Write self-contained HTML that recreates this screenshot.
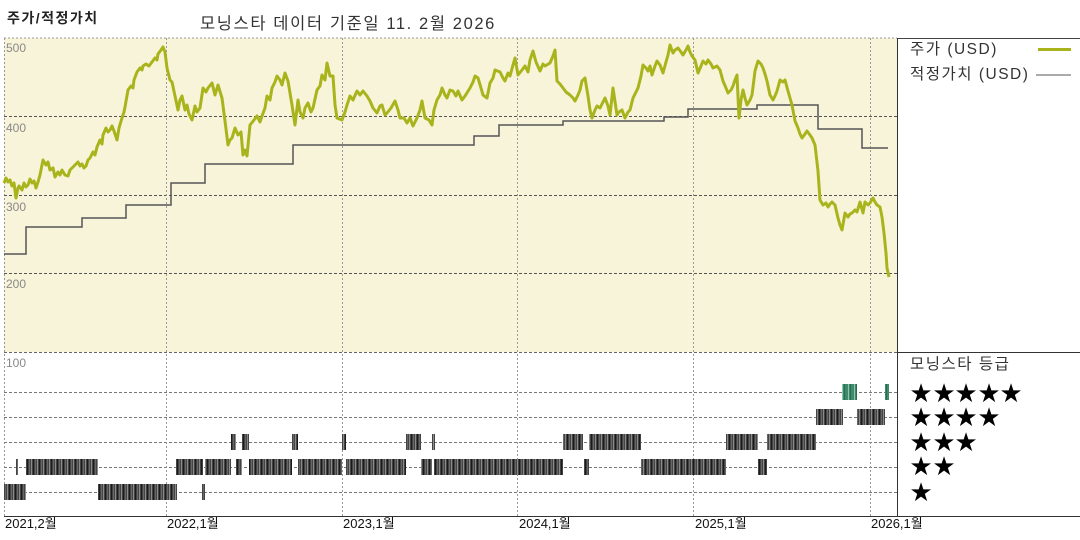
<!DOCTYPE html>
<html><head><meta charset="utf-8"><style>
html,body{margin:0;padding:0;background:#fff;}
body{width:1080px;height:540px;position:relative;overflow:hidden;font-family:"Liberation Sans","Noto Sans CJK KR","NanumGothic",sans-serif;}
</style></head><body>
<svg width="1080" height="540" viewBox="0 0 1080 540" xmlns="http://www.w3.org/2000/svg" style="position:absolute;left:0;top:0">
<defs>
<pattern id="gs" width="6" height="20" patternUnits="userSpaceOnUse">
<rect width="6" height="20" fill="#444"/>
<rect x="1" width="1" height="20" fill="#8a8a8a"/>
<rect x="3" width="1" height="20" fill="#1a1a1a"/>
<rect x="5" width="1" height="20" fill="#666"/>
</pattern>
<pattern id="gg" width="6" height="20" patternUnits="userSpaceOnUse">
<rect width="6" height="20" fill="#3e8a6c"/>
<rect x="2" width="1" height="20" fill="#8fc4ad"/>
<rect x="4" width="1" height="20" fill="#2a6b52"/>
</pattern>
</defs>
<rect x="4" y="38" width="893" height="314" fill="#f8f4d9"/>
<line x1="4" y1="38" x2="897" y2="38" stroke="#999" stroke-dasharray="2,2"/>
<line x1="4.5" y1="38" x2="4.5" y2="516" stroke="#999" stroke-dasharray="2,2"/>
<line x1="897" y1="38.5" x2="1080" y2="38.5" stroke="#444" stroke-width="1"/>
<line x1="897.5" y1="38" x2="897.5" y2="517" stroke="#333" stroke-width="1"/>
<line x1="897" y1="352.5" x2="1080" y2="352.5" stroke="#333" stroke-width="1"/>
<line x1="4" y1="352.5" x2="897" y2="352.5" stroke="#666" stroke-dasharray="3,2"/>
<line x1="4" y1="516.5" x2="1080" y2="516.5" stroke="#333" stroke-width="1"/>
<g stroke="#555" stroke-dasharray="3,2" stroke-width="1">
<line x1="4" y1="116.5" x2="897" y2="116.5"/>
<line x1="4" y1="195.5" x2="897" y2="195.5"/>
<line x1="4" y1="273.5" x2="897" y2="273.5"/>
</g>
<g stroke="#777" stroke-dasharray="3,2" stroke-width="1">
<line x1="4" y1="392.5" x2="897" y2="392.5"/>
<line x1="4" y1="417.5" x2="897" y2="417.5"/>
<line x1="4" y1="442.5" x2="897" y2="442.5"/>
<line x1="4" y1="467.5" x2="897" y2="467.5"/>
<line x1="4" y1="492.5" x2="897" y2="492.5"/>
</g>
<g stroke="#999" stroke-dasharray="2,2" stroke-width="1">
<line x1="166.5" y1="38" x2="166.5" y2="516"/>
<line x1="342.5" y1="38" x2="342.5" y2="516"/>
<line x1="517.5" y1="38" x2="517.5" y2="516"/>
<line x1="693.5" y1="38" x2="693.5" y2="516"/>
<line x1="870.5" y1="38" x2="870.5" y2="516"/>
</g>
<g font-family="Liberation Sans, sans-serif" font-size="12" fill="#888">
<text x="6" y="52">500</text>
<text x="6" y="132">400</text>
<text x="6" y="211">300</text>
<text x="6" y="288">200</text>
<text x="6" y="367">100</text>
</g>
<path d="M4,254 H26 V227 H82 V218 H126 V205 H171 V183 H205 V164 H293 V145 H474 V136 H499 V125 H563 V121 H664 V117 H688 V109 H757 V105 H818 V129 H862 V148 H888" fill="none" stroke="#555" stroke-width="1.5"/>
<polyline fill="none" stroke="#a9b41c" stroke-width="3" stroke-linejoin="round" points="4,183 6,178 8,182 10,180 12,186 14,183 16,198 18,188 19,186 22,190 24,183 26,187 28,185 30,179 32,183 34,181 36,188 38,182 40,175 43,160 46,165 48,162 50,170 53,168 55,177 58,172 60,175 62,170 65,175 68,176 70,170 72,168 75,165 78,162 80,166 82,164 84,168 86,166 88,160 90,158 93,152 95,155 97,147 100,140 102,144 103,135 106,128 108,132 110,130 112,126 114,131 117,140 119,128 122,118 124,112 125,107 128,90 131,86 133,88 134,80 137,72 140,68 142,70 143,66 146,64 149,66 152,62 155,58 157,60 158,54 161,50 163,47 165,52 167,68 170,80 172,82 175,96 178,110 180,100 182,96 185,110 187,105 189,114 192,120 195,106 197,112 200,108 203,88 206,92 208,88 212,83 215,95 218,85 222,98 225,121 228,145 230,140 232,138 235,128 238,135 241,132 243,155 245,150 247,156 250,125 254,120 257,116 260,122 262,116 265,108 267,96 270,100 272,88 275,82 277,76 280,80 282,85 285,73 288,81 292,105 295,125 298,100 300,112 303,118 305,108 308,103 311,112 313,108 317,90 320,86 322,75 325,80 327,63 330,76 333,76 335,105 337,118 342,120 345,112 347,105 350,96 353,100 357,91 360,95 363,91 367,96 370,101 373,108 377,113 380,106 382,105 385,115 387,113 391,108 395,101 398,110 400,118 404,118 407,123 410,118 413,126 417,118 420,110 422,101 425,118 429,120 432,125 434,110 437,100 440,95 442,88 445,95 447,98 450,90 453,91 456,96 458,91 462,100 465,96 470,88 473,82 475,76 478,78 481,88 483,95 487,98 490,83 493,78 495,70 500,72 503,78 505,81 508,73 510,76 513,65 515,58 518,75 522,70 525,66 528,72 530,60 533,51 536,62 540,71 543,64 545,66 550,63 553,56 555,50 557,81 560,84 563,88 566,92 570,95 573,98 575,101 578,95 580,90 582,81 585,78 588,96 590,110 592,118 595,110 597,106 600,108 603,102 605,98 608,106 610,115 613,88 617,115 619,112 622,110 625,118 628,112 630,110 633,98 636,92 638,88 641,76 643,65 646,68 648,71 650,66 652,75 655,66 657,61 660,65 663,73 666,62 668,55 670,45 673,53 675,50 678,48 681,52 683,55 686,50 688,46 690,52 692,56 695,60 698,73 701,66 703,61 706,64 708,60 711,64 713,68 717,66 720,70 723,81 726,88 728,93 731,90 733,86 735,80 737,75 739,118 741,100 743,90 745,98 747,105 750,100 752,95 755,71 758,61 761,64 763,68 765,74 767,81 770,95 773,100 775,96 777,91 780,80 783,82 785,80 788,91 790,98 792,105 795,121 798,128 800,134 802,138 805,134 807,131 810,135 812,138 815,145 818,171 820,200 823,205 826,203 828,207 830,204 832,202 835,205 838,218 840,225 842,230 845,213 848,217 850,214 852,213 855,210 857,212 860,202 863,213 865,202 868,205 870,203 873,198 875,202 877,205 880,207 882,217 884,233 886,253 887,268 889,277"/>
<g fill="url(#gs)">
<rect x="4" y="484" width="22" height="16"/>
<rect x="98" y="484" width="79" height="16"/>
<rect x="202" y="484" width="3" height="16"/>
<rect x="16" y="459" width="2" height="16"/>
<rect x="26" y="459" width="72" height="16"/>
<rect x="176" y="459" width="27" height="16"/>
<rect x="205" y="459" width="26" height="16"/>
<rect x="236" y="459" width="6" height="16"/>
<rect x="249" y="459" width="43" height="16"/>
<rect x="298" y="459" width="44" height="16"/>
<rect x="346" y="459" width="60" height="16"/>
<rect x="421" y="459" width="11" height="16"/>
<rect x="434" y="459" width="129" height="16"/>
<rect x="584" y="459" width="5" height="16"/>
<rect x="641" y="459" width="85" height="16"/>
<rect x="758" y="459" width="9" height="16"/>
<rect x="231" y="434" width="5" height="16"/>
<rect x="242" y="434" width="7" height="16"/>
<rect x="292" y="434" width="6" height="16"/>
<rect x="342" y="434" width="4" height="16"/>
<rect x="406" y="434" width="15" height="16"/>
<rect x="432" y="434" width="3" height="16"/>
<rect x="563" y="434" width="20" height="16"/>
<rect x="589" y="434" width="52" height="16"/>
<rect x="726" y="434" width="32" height="16"/>
<rect x="767" y="434" width="49" height="16"/>
<rect x="816" y="409" width="27" height="16"/>
<rect x="857" y="409" width="28" height="16"/>
</g>
<g fill="url(#gg)">
<rect x="842" y="384" width="15" height="16"/>
<rect x="885" y="384" width="4" height="16"/>
</g>
<g font-family="Liberation Sans, Noto Sans CJK KR, sans-serif" font-size="13" fill="#111">
<text x="5" y="528">2021,2월</text>
<text x="167" y="528">2022,1월</text>
<text x="343" y="528">2023,1월</text>
<text x="519" y="528">2024,1월</text>
<text x="695" y="528">2025,1월</text>
<text x="871" y="528">2026,1월</text>
</g>
<g font-family="Liberation Sans, Noto Sans CJK KR, sans-serif" font-size="15.5" fill="#333" letter-spacing="1.5">
<text x="910" y="54">주가 (USD)</text>
<text x="910" y="79">적정가치 (USD)</text>
<text x="910" y="369">모닝스타 등급</text>
</g>
<line x1="1038" y1="49.5" x2="1071" y2="49.5" stroke="#a9b41c" stroke-width="3"/>
<line x1="1036" y1="75" x2="1071" y2="75" stroke="#555" stroke-width="1"/>
<g font-family="DejaVu Sans, sans-serif" font-size="26" fill="#000" text-anchor="middle">
<text x="921" y="402">★</text><text x="944" y="402">★</text><text x="966" y="402">★</text><text x="989" y="402">★</text><text x="1011" y="402">★</text>
<text x="921" y="426">★</text><text x="944" y="426">★</text><text x="966" y="426">★</text><text x="989" y="426">★</text>
<text x="921" y="451">★</text><text x="944" y="451">★</text><text x="966" y="451">★</text>
<text x="921" y="475">★</text><text x="944" y="475">★</text>
<text x="921" y="501">★</text>
</g>
<text x="7" y="23" font-family="Liberation Sans, Noto Sans CJK KR, sans-serif" font-size="14" font-weight="bold" fill="#222" letter-spacing="1.5">주가/적정가치</text>
<text x="200" y="29" font-family="Liberation Sans, Noto Sans CJK KR, sans-serif" font-size="16.5" fill="#333" letter-spacing="1.6">모닝스타 데이터 기준일 11. 2월 2026</text>
</svg>
</body></html>
